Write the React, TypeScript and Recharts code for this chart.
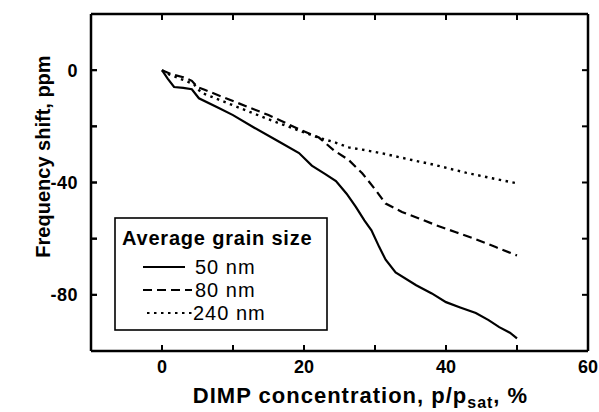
import React from 'react';
import { LineChart, Line, XAxis, YAxis } from 'recharts';

// x: DIMP concentration (%), y: frequency shift (ppm)
const x50 = [0, 0.8, 1.7, 3, 4.2, 5.2, 8, 10, 13, 16.5, 19.3, 21.1, 23, 24.5, 26, 27.3, 28.5, 29.5, 30.6, 31.5, 32.9, 35.8, 38, 40, 42, 44.2, 46, 47.5, 49, 50];
const y50 = [0, -3, -6, -6.3, -6.8, -10, -13.5, -16, -20.5, -25.5, -29.5, -34, -37, -39.5, -44, -48.7, -53.5, -57, -63, -67.5, -72, -76.6, -79.5, -82.6, -84.5, -86.5, -89, -91.5, -93.5, -95.5];

const x80 = [0, 1.4, 3, 4.2, 5, 6, 10, 15, 19.3, 22.1, 24.2, 26.3, 28.2, 30.1, 31.5, 33.8, 36.2, 38.6, 41.4, 44.2, 47, 50];
const y80 = [0, -1.5, -2.5, -3.8, -6, -7, -11, -16, -21, -24, -28.5, -32, -36.7, -42.7, -47.5, -50.5, -52.8, -55.2, -57.7, -60.2, -63, -66];

const x240 = [0, 1, 3, 4.5, 5.5, 8, 10, 15, 19.3, 22, 24.2, 26.3, 28.2, 31, 35.2, 38, 42.8, 46.5, 50];
const y240 = [0, -1.5, -3.5, -5, -8, -10.5, -12.5, -17.5, -21.5, -24, -25.6, -27.5, -28.3, -29.6, -32, -33.5, -36.5, -38.5, -40.3];

const xDomain = [-10, 60];
const yDomain = [-100, 20];
const xTicks = [0, 10, 20, 30, 40, 50, 60];
const xLabelTicks = [0, 20, 40, 60];
const yTicks = [-100, -80, -60, -40, -20, 0, 20];
const yLabelTicks = [0, -40, -80];

const seriesNames = ['50 nm', '80 nm', '240 nm'];
const legendTitle = 'Average grain size';
const xTitleMain = 'DIMP concentration, p/p';
const xTitleSub = 'sat';
const xTitleEnd = ', %';
const yTitle = 'Frequency shift, ppm';

const toPts = (xs: number[], ys: number[]) => xs.map((x, i) => ({ x, y: ys[i] }));
const d50 = toPts(x50, y50);
const d80 = toPts(x80, y80);
const d240 = toPts(x240, y240);

const W = 599;
const H = 412;
const M = { top: 13, right: 10, bottom: 0, left: 0 };
const TOP_H = 1;
const RIGHT_W = 1;
const BOTTOM_H = 61;
const LEFT_W = 91;
const PLOT_TOP = M.top + TOP_H;
const PLOT_BOTTOM = H - M.bottom - BOTTOM_H;
const PLOT_LEFT = M.left + LEFT_W;
const PLOT_RIGHT = W - M.right - RIGHT_W;

// same linear mapping as the chart's number axes (for the inward frame ticks only)
const sx = (v: number) => PLOT_LEFT + ((v - xDomain[0]) / (xDomain[1] - xDomain[0])) * (PLOT_RIGHT - PLOT_LEFT);
const sy = (v: number) => PLOT_TOP + ((yDomain[1] - v) / (yDomain[1] - yDomain[0])) * (PLOT_BOTTOM - PLOT_TOP);

const FONT = '"Liberation Sans", Arial, Helvetica, sans-serif';
const axisLine = { stroke: '#000', strokeWidth: 2.5 };
const TL = 6;

const BottomLabel = (p: any) => {
  const v = p.payload?.value;
  return (
    <g>
      <path d={`M${p.x},${PLOT_BOTTOM} v${-TL}`} stroke="#000" strokeWidth={2} fill="none" />
      {xLabelTicks.includes(v) && (
        <text x={p.x} y={PLOT_BOTTOM + 22} textAnchor="middle" fontFamily={FONT} fontWeight={700} fontSize={18} fill="#000">{v}</text>
      )}
    </g>
  );
};
const LeftLabel = (p: any) => {
  const v = p.payload?.value;
  return (
    <g>
      <path d={`M${PLOT_LEFT},${p.y} h${TL}`} stroke="#000" strokeWidth={2} fill="none" />
      {yLabelTicks.includes(v) && (
        <text x={PLOT_LEFT - 13} y={p.y + 6.5} textAnchor="end" fontFamily={FONT} fontWeight={700} fontSize={18} letterSpacing={0.5} fill="#000">{v}</text>
      )}
    </g>
  );
};
const TopTick = (p: any) => (
  <path d={`M${p.x},${p.y} v${TL}`} stroke="#000" strokeWidth={2} fill="none" />
);
const RightTick = (p: any) => (
  <path d={`M${p.x},${p.y} h${-TL}`} stroke="#000" strokeWidth={2} fill="none" />
);

const XTitle = (props: any) => {
  const vb = props.viewBox || {};
  const cx = vb.x + vb.width / 2 + 21;
  return (
    <text x={cx} y={403} textAnchor="middle" fontFamily={FONT} fontWeight={700} fontSize={22} letterSpacing={1} fill="#000">
      {xTitleMain}
      <tspan fontSize={16} dy={5}>{xTitleSub}</tspan>
      <tspan dy={-5}>{xTitleEnd}</tspan>
    </text>
  );
};

const YTitle = (props: any) => {
  const vb = props.viewBox || {};
  const cy = vb.y + vb.height / 2 - 26;
  const bx = 50;
  return (
    <text x={bx} y={cy} transform={`rotate(-90, ${bx}, ${cy})`} textAnchor="middle" fontFamily={FONT} fontWeight={700} fontSize={20} fill="#000">
      {yTitle}
    </text>
  );
};

const dashes = [undefined, '9 5', '2.5 4.5'];

const LegendBox = () => (
  <svg width={214} height={114} style={{ position: 'absolute', left: 114, top: 217 }}>
    <rect x={1} y={1} width={212} height={112} fill="#fff" stroke="#000" strokeWidth={1.6} />
    <text x={8} y={28} fontFamily={FONT} fontWeight={700} fontSize={20} letterSpacing={0.8} fill="#000">{legendTitle}</text>
    {seriesNames.map((n, i) => (
      <g key={n}>
        <line x1={i === 2 ? 33 : 29} x2={i === 0 ? 71 : 78} y1={50 + i * 23} y2={50 + i * 23} stroke="#000" strokeWidth={2} strokeDasharray={dashes[i]} />
        <text x={i === 2 ? 79 : 81} y={57 + i * 23} fontFamily={FONT} fontSize={20} letterSpacing={1} fill="#000">{n}</text>
      </g>
    ))}
  </svg>
);

const FrameTicks = () => (
  <svg width={W} height={H} style={{ position: 'absolute', left: 0, top: 0, pointerEvents: 'none', zIndex: 5 }}>
    {xTicks.map((t) => (
      <line key={'bx' + t} x1={sx(t)} x2={sx(t)} y1={PLOT_BOTTOM} y2={PLOT_BOTTOM - TL} stroke="#000" strokeWidth={2} />
    ))}
    {yTicks.map((t) => (
      <line key={'ly' + t} x1={PLOT_LEFT} x2={PLOT_LEFT + TL} y1={sy(t)} y2={sy(t)} stroke="#000" strokeWidth={2} />
    ))}
  </svg>
);

export default function App() {
  return (
    <div style={{ position: 'absolute', left: 0, top: 0, width: W, height: H, background: '#fff' }}>
      <LineChart width={W} height={H} margin={M}>
        <XAxis xAxisId="b" type="number" dataKey="x" domain={xDomain} ticks={xTicks} interval={0} allowDataOverflow
          height={BOTTOM_H} tickSize={0} tickMargin={0} axisLine={axisLine} tickLine={false} tick={<BottomLabel />} label={<XTitle />} />
        <XAxis xAxisId="t" orientation="top" type="number" dataKey="x" domain={xDomain} ticks={xTicks} interval={0} allowDataOverflow
          height={TOP_H} tickSize={0} tickMargin={0} axisLine={axisLine} tickLine={false} tick={<TopTick />} />
        <YAxis yAxisId="l" type="number" domain={yDomain} ticks={yTicks} interval={0} allowDataOverflow
          width={LEFT_W} tickSize={0} tickMargin={0} axisLine={axisLine} tickLine={false} tick={<LeftLabel />} label={<YTitle />} />
        <YAxis yAxisId="r" orientation="right" type="number" domain={yDomain} ticks={yTicks} interval={0} allowDataOverflow
          width={RIGHT_W} tickSize={0} tickMargin={0} axisLine={axisLine} tickLine={false} tick={<RightTick />} />
        <Line xAxisId="t" yAxisId="r" data={d50} dataKey="y" type="linear" stroke="none" dot={false} legendType="none" isAnimationActive={false} />
        <Line xAxisId="b" yAxisId="l" data={d50} dataKey="y" type="linear" stroke="#000" strokeWidth={2.2} dot={false} isAnimationActive={false} />
        <Line xAxisId="b" yAxisId="l" data={d80} dataKey="y" type="linear" stroke="#000" strokeWidth={2.2} strokeDasharray="9 5" dot={false} isAnimationActive={false} />
        <Line xAxisId="b" yAxisId="l" data={d240} dataKey="y" type="linear" stroke="#000" strokeWidth={2.4} strokeDasharray="2.5 4.5" dot={false} isAnimationActive={false} />
      </LineChart>
      <LegendBox />
      <FrameTicks />
    </div>
  );
}
